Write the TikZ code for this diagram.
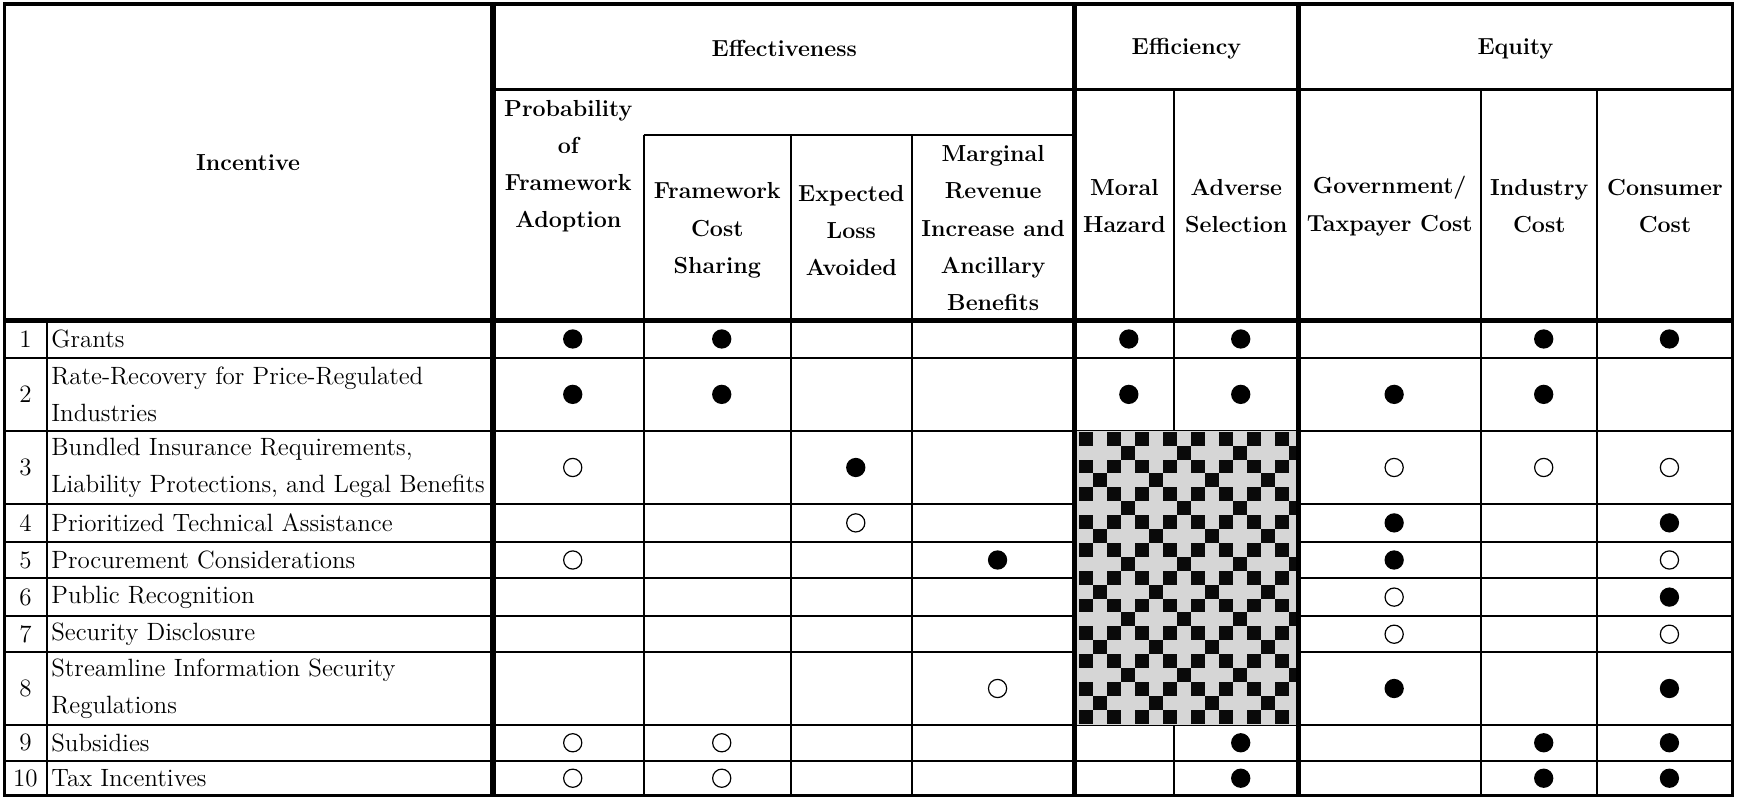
\documentclass[tikz,border=0pt]{standalone}
\usepackage{fontspec}
\begin{document}
\begin{tikzpicture}[x=0.5539pt,y=-0.5539pt,
  hdr/.style={font=\fontsize{11.6}{18.6}\selectfont\bfseries, align=center, inner sep=0pt},
  body/.style={font=\fontsize{12.5}{18.6}\selectfont, align=left, inner sep=0pt, anchor=west},
  num/.style={font=\fontsize{12.5}{18.6}\selectfont, inner sep=0pt},
  fullmark/.style={circle, fill=black, minimum size=9.65pt, inner sep=0pt},
  openmark/.style={circle, draw=black, line width=0.6pt, minimum size=9.1pt, inner sep=0pt},
  thinline/.style={line width=1pt},
  midline/.style={line width=1.3pt},
  heavyline/.style={line width=2.6pt},
  outerline/.style={line width=1.75pt},
]
\definecolor{patlight}{HTML}{D6D6D6}
\definecolor{patdark}{HTML}{0A0A0A}
\useasboundingbox (0,0) rectangle (1568,719.5);
\fill[white] (0,0) rectangle (1568,719.5);

% column centres (marks sit slightly right of centre)
\coordinate (c1) at (517,0);
\coordinate (c2) at (651.5,0);
\coordinate (c3) at (772.5,0);
\coordinate (c4) at (900.5,0);
\coordinate (c5) at (1019,0);
\coordinate (c6) at (1120,0);
\coordinate (c7) at (1258.5,0);
\coordinate (c8) at (1393.5,0);
\coordinate (c9) at (1507,0);
% row centres
\coordinate (r1) at (0,306);
\coordinate (r2) at (0,356);
\coordinate (r3) at (0,422);
\coordinate (r4) at (0,472);
\coordinate (r5) at (0,505.5);
\coordinate (r6) at (0,539);
\coordinate (r7) at (0,572.5);
\coordinate (r8) at (0,621.5);
\coordinate (r9) at (0,670.5);
\coordinate (r10) at (0,702.5);

% thin lines
\foreach \yy in {323,389,455,489,522,556,589,654,687}
  \draw[thinline] (4,\yy) -- (1564,\yy);
\draw[midline] (445,81) -- (1564,81);
\draw[thinline] (581,122) -- (970,122);
\foreach \xx in {581,714,823} \draw[thinline] (\xx,122) -- (\xx,718);
\foreach \xx in {1060,1337,1442} \draw[thinline] (\xx,81) -- (\xx,718);
\draw[thinline] (42,289) -- (42,718);

% pattern
\begin{scope}
  \clip (970,389) rectangle (1172,654);
  \fill[patlight] (970,389) rectangle (1172,654);
  \foreach \i in {0,...,20}{
    \foreach \j in {0,...,15}{
      \pgfmathtruncatemacro\a{mod(\i,4)}
      \pgfmathtruncatemacro\b{mod(\j,4)}
      \pgfmathtruncatemacro\k{((mod(\i,2)==0) && (mod(\j,2)==0)) || ((\a==1) && (\b==3)) || ((\a==3) && (\b==1))}
      \ifnum\k=1
        \fill[patdark] (974.3+\j*12.64,389.7+\i*12.55) rectangle ++(12.64,12.55);
      \fi
    }
  }
\end{scope}

% heavy lines
\foreach \xx in {445,970,1172} \draw[heavyline] (\xx,3.5) -- (\xx,718);
\draw[heavyline] (4,289) -- (1564,289);
\draw[outerline] (4,3.5) rectangle (1564,718);

% header
\node[hdr] (hInc) at (224,147) {Incentive};
\node[hdr] (hEff) at (708,44) {Effectiveness};
\node[hdr] (hEffi) at (1071,44) {Efficiency};
\node[hdr] (hEq) at (1368,44) {Equity};
\node[hdr] (hProb) at (513,150) {Probability\\of\\Framework\\Adoption};
\node[hdr] (hFCS) at (647.5,208) {Framework\\Cost\\Sharing};
\node[hdr] (hELA) at (768.5,208) {Expected\\Loss\\Avoided};
\node[hdr] (hMR) at (896.5,206) {Marginal\\Revenue\\Increase and\\Ancillary\\Benefits};
\node[hdr] (hMH) at (1015,186) {Moral\\Hazard};
\node[hdr] (hAS) at (1116,186) {Adverse\\Selection};
\node[hdr] (hGov) at (1254.5,186) {Government/\\Taxpayer Cost};
\node[hdr] (hInd) at (1389.5,186) {Industry\\Cost};
\node[hdr] (hCon) at (1503,186) {Consumer\\Cost};

% row labels
\foreach \n/\t in {1/Grants, 2/{Rate-Recovery for Price-Regulated\\Industries},
  3/{Bundled Insurance Requirements,\\Liability Protections, and Legal Benefits},
  4/Prioritized Technical Assistance, 5/Procurement Considerations,
  6/Public Recognition, 7/Security Disclosure,
  8/{Streamline Information Security\\Regulations}, 9/Subsidies, 10/Tax Incentives}{
  \node[num] (n\n) at (23,0 |- r\n) {\n};
  \node[body] (t\n) at (46,0 |- r\n) {\t};
}

% marks
\foreach \c/\r in {1/1,2/1,5/1,6/1,8/1,9/1,
  1/2,2/2,5/2,6/2,7/2,8/2,
  3/3, 7/4,9/4, 4/5,7/5, 9/6, 7/8,9/8,
  6/9,8/9,9/9, 6/10,8/10,9/10}
  \node[fullmark] (f\c-\r) at (c\c |- r\r) {};
\foreach \c/\r in {1/3,7/3,8/3,9/3, 3/4, 1/5,9/5, 7/6, 7/7,9/7, 4/8, 1/9,2/9, 1/10,2/10}
  \node[openmark] (o\c-\r) at (c\c |- r\r) {};
\end{tikzpicture}
\end{document}
